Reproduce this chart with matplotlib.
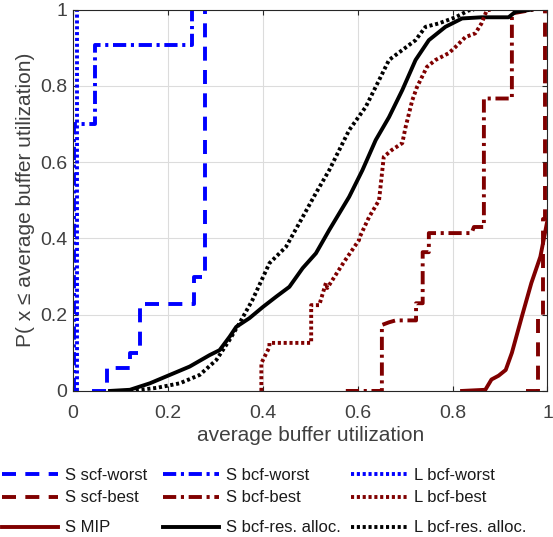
import numpy as np
import matplotlib.pyplot as plt

plt.rcParams['font.family'] = ['Liberation Sans', 'DejaVu Sans']

blue = (0, 0, 1)
red = (0.5, 0, 0)

# S scf-worst (step cdf)
scf_worst_x = [0.04, 0.071, 0.071, 0.12, 0.12, 0.141, 0.141, 0.256, 0.256, 0.279, 0.279]
scf_worst_y = [0.0, 0.0, 0.06, 0.06, 0.10, 0.10, 0.228, 0.228, 0.30, 0.30, 1.0]

# S bcf-worst
bcf_worst_x = [0.003, 0.003, 0.046, 0.046, 0.251, 0.251]
bcf_worst_y = [0.0, 0.70, 0.70, 0.907, 0.907, 1.0]

# L bcf-worst
l_worst_x = [0.008, 0.008]
l_worst_y = [0.0, 1.0]

# S scf-best
scf_best_x = [0.955, 0.979, 0.979, 0.99, 0.99, 0.995, 0.995]
scf_best_y = [0.0, 0.0, 0.2, 0.2, 0.45, 0.45, 1.0]

# S bcf-best
bcf_best_x = [0.575, 0.651, 0.651, 0.666, 0.68, 0.723, 0.723, 0.737, 0.737, 0.75, 0.75,
              0.84, 0.845, 0.866, 0.866, 0.925, 0.925, 0.97]
bcf_best_y = [0.0, 0.0, 0.173, 0.18, 0.185, 0.185, 0.23, 0.23, 0.364, 0.364, 0.414,
              0.414, 0.43, 0.43, 0.767, 0.767, 0.99, 1.0]

# L bcf-best
l_best_x = [0.397, 0.397, 0.414, 0.414, 0.502, 0.502, 0.519, 0.533, 0.536, 0.571, 0.571,
            0.603, 0.603, 0.624, 0.645, 0.655, 0.672, 0.694, 0.701, 0.715, 0.725, 0.746,
            0.764, 0.792, 0.806, 0.827, 0.848, 0.861, 0.872, 0.88]
l_best_y = [0.0, 0.073, 0.115, 0.126, 0.126, 0.225, 0.225, 0.283, 0.27, 0.338, 0.338,
            0.396, 0.40, 0.456, 0.50, 0.614, 0.632, 0.65, 0.692, 0.762, 0.797, 0.85,
            0.868, 0.886, 0.902, 0.928, 0.938, 0.964, 0.998, 1.0]

# S MIP
mip_x = [0.82, 0.869, 0.882, 0.897, 0.912, 0.925, 0.946, 0.966, 0.985, 1.0]
mip_y = [0.0, 0.003, 0.03, 0.04, 0.055, 0.1, 0.195, 0.283, 0.352, 0.448]

# S bcf-res. alloc.
res_x = [0.078, 0.120, 0.162, 0.204, 0.246, 0.288, 0.309, 0.330, 0.344, 0.372, 0.40,
         0.428, 0.456, 0.484, 0.512, 0.54, 0.582, 0.61, 0.638, 0.666, 0.694, 0.722,
         0.75, 0.785, 0.82, 0.861, 0.918, 0.932, 0.966]
res_y = [0.0, 0.003, 0.02, 0.042, 0.064, 0.094, 0.107, 0.142, 0.168, 0.191, 0.22,
         0.247, 0.273, 0.322, 0.361, 0.422, 0.509, 0.579, 0.658, 0.718, 0.789, 0.868,
         0.92, 0.955, 0.977, 0.98, 0.98, 0.994, 1.0]

# L bcf-res. alloc.
l_res_x = [0.12, 0.176, 0.225, 0.267, 0.302, 0.330, 0.351, 0.378, 0.414, 0.449, 0.484,
           0.512, 0.54, 0.582, 0.617, 0.645, 0.666, 0.694, 0.722, 0.743, 0.771, 0.806,
           0.834, 0.845]
l_res_y = [0.0, 0.008, 0.02, 0.042, 0.081, 0.134, 0.178, 0.238, 0.335, 0.378, 0.456,
           0.519, 0.579, 0.684, 0.745, 0.815, 0.868, 0.894, 0.92, 0.955, 0.964, 0.98,
           0.998, 1.0]

fig = plt.figure(figsize=(5.53, 5.37), dpi=100)
ax = fig.add_axes([0.132, 0.272, 0.858, 0.71])

lw = 2.8
dash = (3.6, 2.4)
dashdot = (3.4, 1.2, 0.8, 1.2)
dot = (0.8, 0.7)
h1, = ax.plot(scf_worst_x, scf_worst_y, color=blue, lw=lw, dashes=dash, label='S scf-worst')
h2, = ax.plot(scf_best_x, scf_best_y, color=red, lw=lw, dashes=dash, label='S scf-best')
h3, = ax.plot(mip_x, mip_y, '-', color=red, lw=lw, label='S MIP')
h4, = ax.plot(bcf_worst_x, bcf_worst_y, color=blue, lw=lw, dashes=dashdot, label='S bcf-worst')
h5, = ax.plot(bcf_best_x, bcf_best_y, color=red, lw=lw, dashes=dashdot, label='S bcf-best')
h6, = ax.plot(res_x, res_y, '-', color='black', lw=lw, label='S bcf-res. alloc.')
h7, = ax.plot(l_worst_x, l_worst_y, color=blue, lw=lw, dashes=dot, label='L bcf-worst')
h8, = ax.plot(l_best_x, l_best_y, color=red, lw=lw, dashes=dot, label='L bcf-best')
h9, = ax.plot(l_res_x, l_res_y, color='black', lw=lw, dashes=dot, label='L bcf-res. alloc.')

ax.set_xlim(0, 1)
ax.set_ylim(0, 1)
ax.set_xticks([0, 0.2, 0.4, 0.6, 0.8, 1])
ax.set_yticks([0, 0.2, 0.4, 0.6, 0.8, 1])
ax.set_xticklabels(['0', '0.2', '0.4', '0.6', '0.8', '1'])
ax.set_yticklabels(['0', '0.2', '0.4', '0.6', '0.8', '1'])
ax.grid(True, color='#dcdcdc', lw=0.8)
ax.set_axisbelow(True)
ax.tick_params(direction='in', top=True, right=True, labelsize=14, colors='#262626',
               labelcolor='#404040')
ax.tick_params(axis='x', pad=10)
ax.tick_params(axis='y', pad=4)
for s in ax.spines.values():
    s.set_color('#262626')
    s.set_linewidth(0.8)

ax.set_xlabel('average buffer utilization', fontsize=15, color='#404040', labelpad=3)
ax.set_ylabel('P( x \u2264 average buffer utilization)', fontsize=15, color='#404040',
              labelpad=4)

# legend: one small legend per entry so columns / rows sit like the original
col_x = [2, 163, 351]
row_y = [475, 498, 528]
entries = [[h1, h2, h3], [h4, h5, h6], [h7, h8, h9]]
for c, col in enumerate(entries):
    for r, h in enumerate(col):
        fig.legend(handles=[h], loc='center left',
                   bbox_to_anchor=(col_x[c] / 553, 1 - row_y[r] / 537),
                   frameon=False, borderpad=0, borderaxespad=0, fontsize=12,
                   handlelength=3.36, handletextpad=0.42, labelcolor='#1a1a1a')

fig.savefig('out.png', dpi=100)
